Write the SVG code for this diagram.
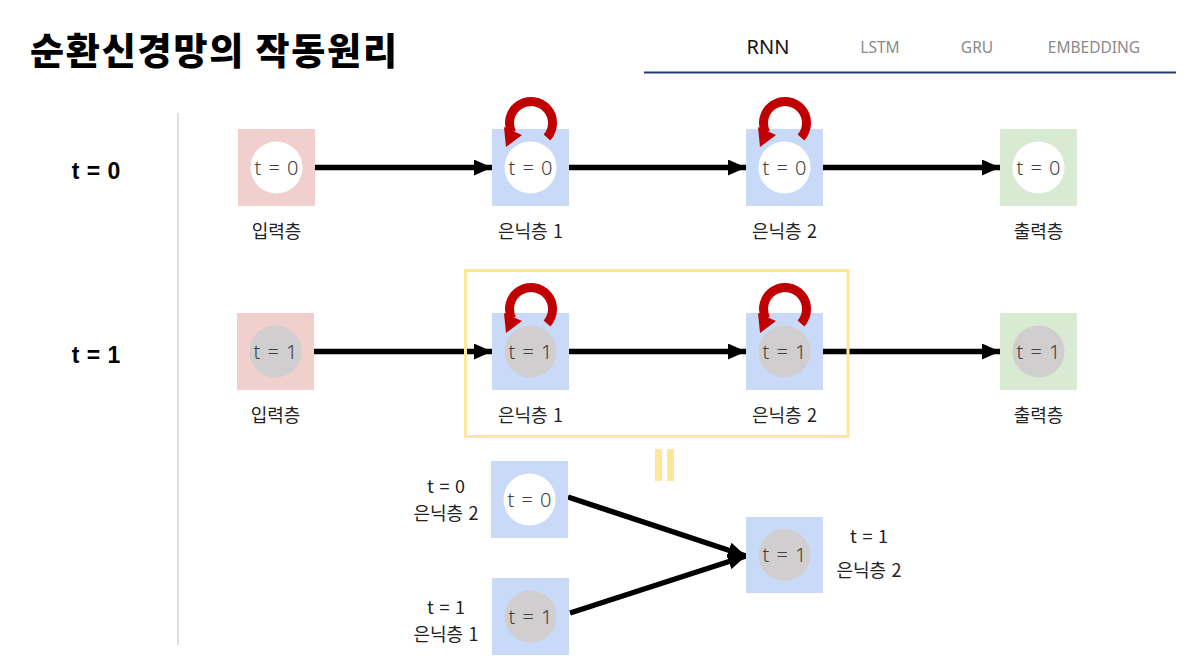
<svg xmlns="http://www.w3.org/2000/svg" width="1199" height="672" viewBox="0 0 1199 672">
<style>
.title{font-family:"Noto Sans CJK KR","Noto Sans",sans-serif;font-weight:900;font-size:37px;fill:#000}
.nav{font-family:"Noto Sans","Noto Sans CJK KR",sans-serif;font-size:15.5px;fill:#8a8a8a;text-anchor:middle}
.navon{font-family:"Noto Sans","Noto Sans CJK KR",sans-serif;font-size:20px;fill:#111;text-anchor:middle}
.tb{font-family:"Liberation Sans",Arial,sans-serif;font-weight:bold;font-size:23px;fill:#000;text-anchor:middle;word-spacing:1px}
.ct{font-family:"Noto Sans","Noto Sans CJK KR",sans-serif;font-weight:300;font-size:20px;fill:#404040;text-anchor:middle;word-spacing:2px}
.lb{font-family:"Noto Sans CJK KR","Noto Sans",sans-serif;font-size:18px;fill:#222;text-anchor:middle;word-spacing:1.5px}
.pink{fill:#f0cfcc}.blue{fill:#c9daf8}.green{fill:#d9ead3}
.cw{fill:#fff}.cg{fill:#d0cece}
.arr{stroke:#000;stroke-width:5.5;fill:none}
.loop{stroke:#c00000;stroke-width:9;fill:none}
.head{fill:#c00000}
</style>
<defs>
<marker id="ah" markerUnits="userSpaceOnUse" markerWidth="18" markerHeight="16" refX="18" refY="8" orient="auto">
<path d="M0,0 L18,8 L0,16 Z" fill="#000"/>
</marker>
<g id="loopShape">
<path class="loop" d="M547,137.4 A21.5,21.5 0 1 0 511.7,132.4"/>
<polygon class="head" points="504,127 522,135 506,147"/>
</g>
</defs>
<rect width="1199" height="672" fill="#fff"/>

<g id="header">
<text class="title" x="30" y="65" textLength="367" lengthAdjust="spacing">순환신경망의 작동원리</text>
<text class="navon" x="768" y="54">RNN</text>
<text class="nav" x="880" y="53">LSTM</text>
<text class="nav" x="977" y="53">GRU</text>
<text class="nav" x="1094" y="53">EMBEDDING</text>
<line x1="644" y1="72.5" x2="1176" y2="72.5" stroke="#243a6e" stroke-width="2"/>
<line x1="178" y1="113" x2="178" y2="645" stroke="#e0e0e0" stroke-width="2"/>
<text class="tb" x="96" y="179">t = 0</text>
<text class="tb" x="96" y="363">t = 1</text>
</g>

<g id="connectors">
<line class="arr" x1="315" y1="167.5" x2="492" y2="167.5" marker-end="url(#ah)"/>
<line class="arr" x1="569" y1="167.5" x2="746" y2="167.5" marker-end="url(#ah)"/>
<line class="arr" x1="823" y1="167.5" x2="1000" y2="167.5" marker-end="url(#ah)"/>
<line class="arr" x1="314" y1="351.5" x2="492" y2="351.5" marker-end="url(#ah)"/>
<line class="arr" x1="569" y1="351.5" x2="746" y2="351.5" marker-end="url(#ah)"/>
<line class="arr" x1="823" y1="351.5" x2="1000" y2="351.5" marker-end="url(#ah)"/>
<line class="arr" x1="568" y1="497" x2="746" y2="556" marker-end="url(#ah)"/>
<line class="arr" x1="570" y1="613" x2="746" y2="556" marker-end="url(#ah)"/>
</g>

<g id="r0-input">
<rect class="pink" x="238" y="129" width="77" height="77"/>
<circle class="cw" cx="276.5" cy="167.5" r="26"/>
<text class="ct" x="276.5" y="174.5">t = 0</text>
<text class="lb" x="276.5" y="238">입력층</text>
</g>
<g id="r0-hidden1">
<rect class="blue" x="492" y="129" width="77" height="77"/>
<circle class="cw" cx="530.5" cy="167.5" r="26"/>
<text class="ct" x="530.5" y="174.5">t = 0</text>
<text class="lb" x="530.5" y="238">은닉층 1</text>
<use href="#loopShape"/>
</g>
<g id="r0-hidden2">
<rect class="blue" x="746" y="129" width="77" height="77"/>
<circle class="cw" cx="784.5" cy="167.5" r="26"/>
<text class="ct" x="784.5" y="174.5">t = 0</text>
<text class="lb" x="784.5" y="238">은닉층 2</text>
<use href="#loopShape" transform="translate(254,0)"/>
</g>
<g id="r0-output">
<rect class="green" x="1000" y="129" width="77" height="77"/>
<circle class="cw" cx="1038.5" cy="167.5" r="26"/>
<text class="ct" x="1038.5" y="174.5">t = 0</text>
<text class="lb" x="1038.5" y="238">출력층</text>
</g>

<g id="r1-input">
<rect class="pink" x="237" y="313" width="77" height="77"/>
<circle class="cg" cx="275.5" cy="351.5" r="26"/>
<text class="ct" x="275.5" y="358.5">t = 1</text>
<text class="lb" x="275.5" y="422">입력층</text>
</g>
<g id="r1-hidden1">
<rect class="blue" x="492" y="313" width="77" height="77"/>
<circle class="cg" cx="530.5" cy="351.5" r="26"/>
<text class="ct" x="530.5" y="358.5">t = 1</text>
<text class="lb" x="530.5" y="422">은닉층 1</text>
<use href="#loopShape" transform="translate(0,186)"/>
</g>
<g id="r1-hidden2">
<rect class="blue" x="746" y="313" width="77" height="77"/>
<circle class="cg" cx="784.5" cy="351.5" r="26"/>
<text class="ct" x="784.5" y="358.5">t = 1</text>
<text class="lb" x="784.5" y="422">은닉층 2</text>
<use href="#loopShape" transform="translate(254,186)"/>
</g>
<g id="r1-output">
<rect class="green" x="1000" y="313" width="77" height="77"/>
<circle class="cg" cx="1038.5" cy="351.5" r="26"/>
<text class="ct" x="1038.5" y="358.5">t = 1</text>
<text class="lb" x="1038.5" y="422">출력층</text>
</g>

<g id="highlight">
<rect x="465.5" y="270.5" width="382.5" height="166" fill="none" stroke="#ffe699" stroke-width="3"/>
<rect x="655" y="449" width="7" height="32" fill="#ffe699"/>
<rect x="667" y="449" width="7" height="32" fill="#ffe699"/>
</g>

<g id="b-h2-t0">
<rect class="blue" x="491" y="461" width="77" height="77"/>
<circle class="cw" cx="529.5" cy="499.5" r="26"/>
<text class="ct" x="529.5" y="506.5">t = 0</text>
<text class="lb" x="446" y="493">t = 0</text>
<text class="lb" x="446" y="520">은닉층 2</text>
</g>
<g id="b-h1-t1">
<rect class="blue" x="492" y="578" width="77" height="77"/>
<circle class="cg" cx="530.5" cy="616.5" r="26"/>
<text class="ct" x="530.5" y="623.5">t = 1</text>
<text class="lb" x="446" y="614">t = 1</text>
<text class="lb" x="446" y="641">은닉층 1</text>
</g>
<g id="b-h2-t1">
<rect class="blue" x="746" y="517" width="77" height="76"/>
<circle class="cg" cx="784.5" cy="555" r="26"/>
<text class="ct" x="784.5" y="562">t = 1</text>
<text class="lb" x="869" y="543">t = 1</text>
<text class="lb" x="869" y="577">은닉층 2</text>
</g>
</svg>
